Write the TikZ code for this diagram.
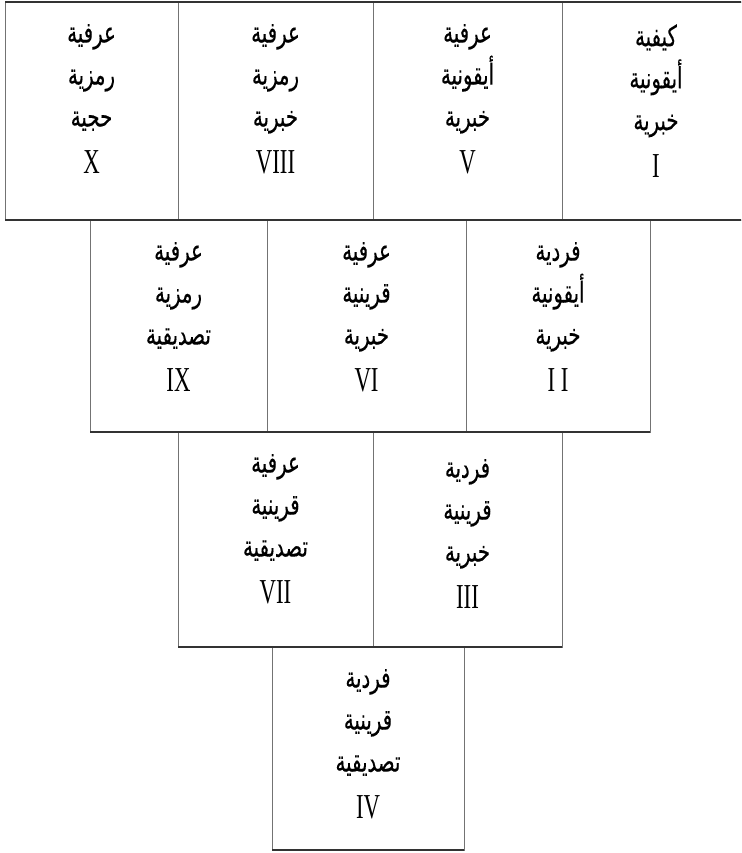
\documentclass[tikz,border=0pt]{standalone}
\usepackage{fontspec}
\newfontfamily\arabicfont[Script=Arabic,FakeStretch=0.68,FakeBold=0.25]{DejaVu Sans}
\newfontfamily\romanfont[FakeStretch=0.65]{Liberation Serif}
\TeXXeTstate=1
\usetikzlibrary{positioning}

\newcommand\arw[1]{{\arabicfont\beginR #1\endR}}
\newcommand\romn[1]{{\romanfont\fontsize{35}{40}\selectfont #1}}
\newcommand\celltext[4]{\arw{#1}\\\arw{#2}\\\arw{#3}\\[5pt]\romn{#4}}

\begin{document}
\begin{tikzpicture}[x=1pt, y=-1pt,
  cell/.style={rectangle, draw=black!55, line width=0.9pt, inner sep=0pt, outer sep=0pt},
  lbl/.style={align=center, inner sep=0pt, font=\fontsize{29}{42}\selectfont},
  hline/.style={draw=black!80, line width=1.4pt}]
\useasboundingbox (0,0) rectangle (741,853);
\clip (0,0) rectangle (741,853);
\node[cell, minimum width=173pt, minimum height=218pt] (c10) at (91.5,111) {};
\node[cell, minimum width=195pt, minimum height=218pt] (c8) at (275.5,111) {};
\node[cell, minimum width=189pt, minimum height=218pt] (c5) at (467.5,111) {};
\node[cell, minimum width=188pt, minimum height=218pt] (c1) at (656,111) {};
\node[cell, minimum width=177pt, minimum height=212pt] (c9) at (178.5,326) {};
\node[cell, minimum width=199pt, minimum height=212pt] (c6) at (366.5,326) {};
\node[cell, minimum width=184pt, minimum height=212pt] (c2) at (558,326) {};
\node[cell, minimum width=195pt, minimum height=215pt] (c7) at (275.5,539.5) {};
\node[cell, minimum width=189pt, minimum height=215pt] (c3) at (467.5,539.5) {};
\node[cell, minimum width=192pt, minimum height=203pt] (c4) at (368,748.5) {};
\draw[hline] (c10.north west) -- (c1.north east);
\draw[hline] (c10.south west) -- (c1.south east);
\draw[hline] (c9.south west) -- (c2.south east);
\draw[hline] (c7.south west) -- (c3.south east);
\draw[hline] (c4.south west) -- (c4.south east);
\node[lbl, below=22pt of c10.north] (t10) {\celltext{عرفية}{رمزية}{حجية}{X}};
\node[lbl, below=22pt of c8.north] (t8) {\celltext{عرفية}{رمزية}{خبرية}{VIII}};
\node[lbl, below=22pt of c5.north] (t5) {\celltext{عرفية}{أيقونية}{خبرية}{V}};
\node[lbl, below=22pt of c1.north] (t1) {\celltext{كيفية}{أيقونية}{خبرية}{I}};
\node[lbl, below=22pt of c9.north] (t9) {\celltext{عرفية}{رمزية}{تصديقية}{IX}};
\node[lbl, below=22pt of c6.north] (t6) {\celltext{عرفية}{قرينية}{خبرية}{VI}};
\node[lbl, below=22pt of c2.north] (t2) {\celltext{فردية}{أيقونية}{خبرية}{I I}};
\node[lbl, below=22pt of c7.north] (t7) {\celltext{عرفية}{قرينية}{تصديقية}{VII}};
\node[lbl, below=27pt of c3.north] (t3) {\celltext{فردية}{قرينية}{خبرية}{III}};
\node[lbl, below=22pt of c4.north] (t4) {\celltext{فردية}{قرينية}{تصديقية}{IV}};
\end{tikzpicture}
\end{document}
